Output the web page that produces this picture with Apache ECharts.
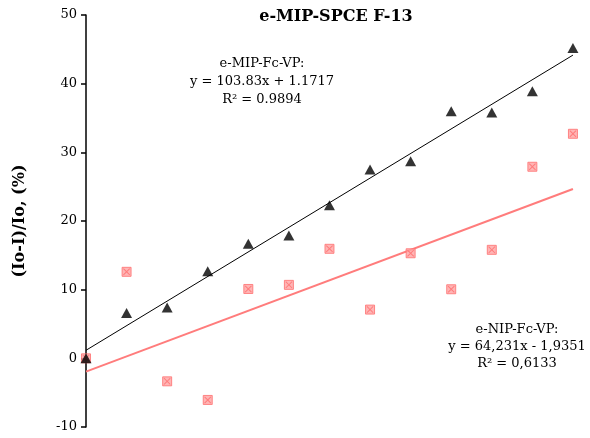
<!DOCTYPE html>
<html><head><meta charset="utf-8">
<script src="https://cdn.jsdelivr.net/npm/echarts@6/dist/echarts.min.js"></script>
<style>html,body{margin:0;padding:0;background:#fff}#c{width:590px;height:438px}</style>
</head><body><div id="c"></div>
<script>
const xStep = 0.0345;
const pointIndex = [0,1,2,3,4,5,6,7,8,9,10,11,12];
const mipValues = [0, 6.6, 7.4, 12.7, 16.7, 17.9, 22.3, 27.5, 28.7, 36.0, 35.8, 38.9, 45.2];
const nipValues = [0, 12.6, -3.35, -6.06, 10.1, 10.7, 15.95, 7.1, 15.3, 10.06, 15.8, 27.9, 32.7];
const mipFit = [103.83, 1.1717];
const nipFit = [64.231, -1.9351];
const yTicks = [-10, 0, 10, 20, 30, 40, 50];
const titleText = 'e-MIP-SPCE F-13';
const yName = '(Io-I)/Io, (%)';
const mipLabel = ['e-MIP-Fc-VP:', 'y = 103.83x + 1.1717', 'R² = 0.9894'];
const nipLabel = ['e-NIP-Fc-VP:', 'y = 64,231x - 1,9351', 'R² = 0,6133'];

const xs = pointIndex.map(i => +(i * xStep).toFixed(4));
const xEnd = xs[xs.length - 1];
const fitLine = f => [[0, f[1]], [xEnd, f[0] * xEnd + f[1]]];
const serif = '"DejaVu Serif", serif';
const xPath = 'path://M0,1L1,0L5,4L9,0L10,1L6,5L10,9L9,10L5,6L1,10L0,9L4,5Z';

const chart = echarts.init(document.getElementById('c'));
chart.setOption({
  animation: false,
  backgroundColor: '#fff',
  grid: { left: 86, right: 10, top: 15, bottom: 11 },
  xAxis: { type: 'value', min: 0, max: 0.42, show: false },
  yAxis: { type: 'value', min: yTicks[0], max: yTicks[yTicks.length - 1], interval: 10,
    name: yName, nameLocation: 'middle', nameGap: 58,
    nameTextStyle: { fontFamily: serif, fontSize: 16, fontWeight: 'bold', color: '#000' },
    axisLine: { show: true, lineStyle: { color: '#000', width: 1.5 } },
    axisTick: { show: true, length: 5, lineStyle: { color: '#000', width: 1.5 } },
    axisLabel: { fontFamily: serif, fontSize: 13, color: '#000', margin: 9 },
    splitLine: { show: false } },
  series: [
    { type: 'line', data: fitLine(nipFit), symbol: 'none', z: 2,
      lineStyle: { color: '#FF7C7C', width: 2 } },
    { type: 'line', data: fitLine(mipFit), symbol: 'none', z: 2,
      lineStyle: { color: '#000', width: 1 } },
    { type: 'scatter', data: xs.map((x, i) => [x, nipValues[i]]), symbol: 'rect', symbolSize: 9, z: 3,
      itemStyle: { color: '#FFA3A3', borderColor: '#FF6E6E', borderWidth: 1 } },
    { type: 'scatter', data: xs.map((x, i) => [x, nipValues[i]]), symbol: xPath, symbolSize: 7, z: 4,
      itemStyle: { color: '#FF6E6E' } },
    { type: 'scatter', data: xs.map((x, i) => [x, mipValues[i]]), symbol: 'triangle', symbolSize: [11, 10], z: 5,
      itemStyle: { color: '#000' } }
  ],
  graphic: [
    { type: 'text', x: 336, y: 9, style: { text: titleText, textAlign: 'center',
      font: 'bold 16px ' + serif, fill: '#000' }, z: 10 },
    { type: 'text', x: 262, y: 55, style: { text: mipLabel.join('\n'), textAlign: 'center',
      font: '13px ' + serif, lineHeight: 18, fill: '#000' }, z: 10 },
    { type: 'text', x: 517, y: 321, style: { text: nipLabel.join('\n'), textAlign: 'center',
      font: '13px ' + serif, lineHeight: 17, fill: '#000' }, z: 10 }
  ]
});
</script></body></html>
